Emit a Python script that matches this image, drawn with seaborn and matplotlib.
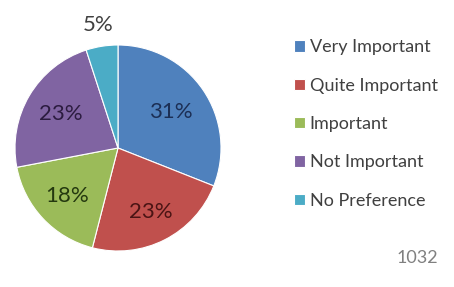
import numpy as np
import matplotlib
matplotlib.use("Agg")
import matplotlib.pyplot as plt
import seaborn as sns

# Data
categories = ["Very Important", "Quite Important", "Important", "Not Important", "No Preference"]
shares = [31, 23, 18, 23, 5]
labels = ["31%", "23%", "18%", "23%", "5%"]

colors = ["#4F81BD", "#C0504D", "#9BBB59", "#8064A2", "#4BACC6"]
label_colors = ["#1c2f55", "#4a1414", "#24380f", "#2c1c40", "#404040"]
label_dist = [0.62, 0.70, 0.68, 0.64, 1.21]

sns.set_theme(style="white")
plt.rcParams["font.family"] = ["Lato", "DejaVu Sans"]

fig = plt.figure(figsize=(4.54, 2.87), dpi=100)
ax = fig.add_axes([15 / 454, 36 / 287, 206 / 454, 206 / 287])

wedges, _ = ax.pie(
    shares,
    colors=colors,
    startangle=90,
    counterclock=False,
    radius=1,
    wedgeprops=dict(edgecolor="white", linewidth=0.8),
)
ax.set_xlim(-1, 1)
ax.set_ylim(-1, 1)
ax.set_aspect("equal")
ax.axis("off")

# percent labels placed along each wedge's middle angle
for w, txt, d, c in zip(wedges, labels, label_dist, label_colors):
    ang = np.deg2rad((w.theta1 + w.theta2) / 2)
    ax.text(d * np.cos(ang), d * np.sin(ang), txt, ha="center", va="center",
            fontsize=16, color=c)

leg = fig.legend(
    wedges, categories,
    loc="upper left", bbox_to_anchor=(287 / 454, 1 - 32 / 287),
    frameon=False, fontsize=13, labelcolor="#404040",
    handlelength=0.6, handleheight=0.6, handletextpad=0.25,
    labelspacing=1.24, borderaxespad=0,
)

fig.text(397 / 454, 1 - 258 / 287, "1032", fontsize=13, color="#808080",
         va="center", ha="left")

fig.savefig("out.png", dpi=100)
